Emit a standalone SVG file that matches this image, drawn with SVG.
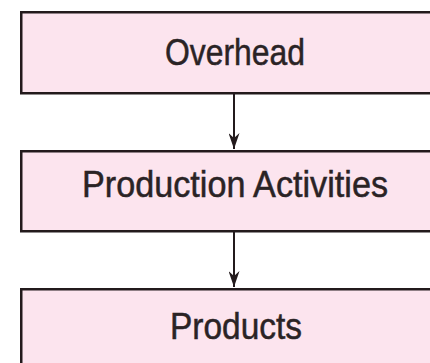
<svg xmlns="http://www.w3.org/2000/svg" width="430" height="363" viewBox="0 0 430 363">
  <style>
    .box { fill: #fce4ee; stroke: #231a1c; stroke-width: 2.5; }
    .label { font-family: "Liberation Sans", Arial, sans-serif; font-size: 37px; fill: #2a2325; stroke: #2a2325; stroke-width: 0.5; text-anchor: middle; }
    .link { stroke: #231a1c; stroke-width: 2; fill: none; marker-end: url(#arrow); }
  </style>
  <defs>
    <marker id="arrow" viewBox="0 0 16 11" refX="16" refY="5.5" markerWidth="16" markerHeight="11" markerUnits="userSpaceOnUse" orient="auto">
      <path d="M0,0 L5,5.5 L0,11 L16,5.5 Z" fill="#231a1c"/>
    </marker>
  </defs>
  <rect width="430" height="363" fill="#ffffff"/>

  <g id="connectors">
    <path class="link" d="M234,94 V149"/>
    <path class="link" d="M234,232 V287"/>
  </g>

  <g id="overhead">
    <rect class="box" x="21.25" y="12.25" width="420" height="81"/>
    <text class="label" x="235" y="65" textLength="140" lengthAdjust="spacingAndGlyphs">Overhead</text>
  </g>

  <g id="production-activities">
    <rect class="box" x="21.25" y="151.25" width="420" height="80"/>
    <text class="label" x="235" y="197" textLength="306" lengthAdjust="spacingAndGlyphs">Production Activities</text>
  </g>

  <g id="products">
    <rect class="box" x="21.25" y="289.25" width="420" height="90"/>
    <text class="label" x="236" y="339" textLength="132" lengthAdjust="spacingAndGlyphs">Products</text>
  </g>
</svg>
